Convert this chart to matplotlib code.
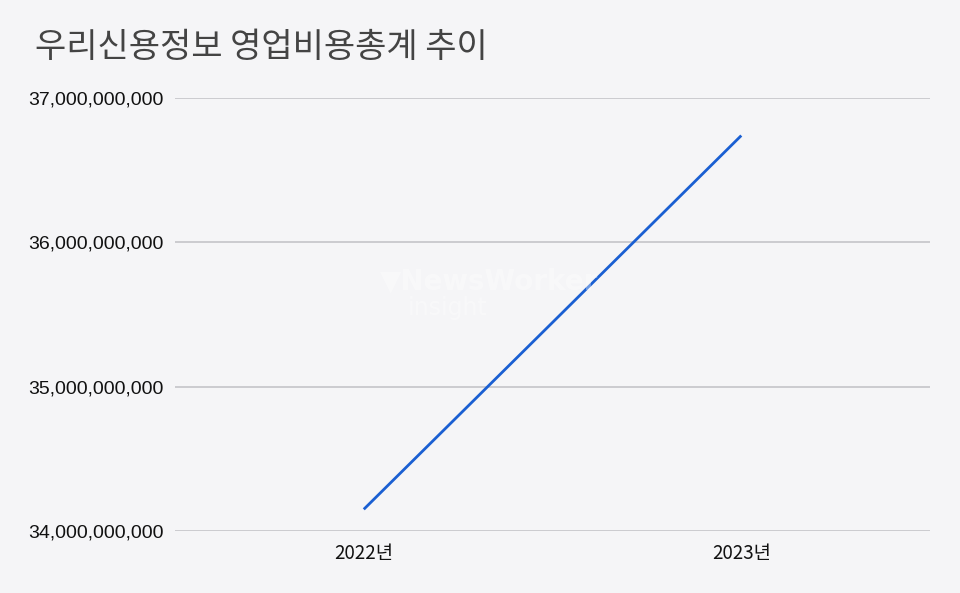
import matplotlib
matplotlib.use("Agg")
import matplotlib.pyplot as plt
from matplotlib.ticker import FuncFormatter

title = "우리신용정보 영업비용총계 추이"
categories = ["2022년", "2023년"]
values = [34_150_000_000, 36_740_000_000]
yticks = [34_000_000_000, 35_000_000_000, 36_000_000_000, 37_000_000_000]

bg = "#f5f5f7"
fig = plt.figure(figsize=(9.6, 5.93), dpi=100, facecolor=bg)
ax = fig.add_axes([0.1823, 0.1046, 0.9688 - 0.1823, 0.8347 - 0.1046])
ax.set_facecolor(bg)

x = list(range(len(categories)))
ax.plot(x, values, color="#1a5fd2", linewidth=2.0, solid_capstyle="butt", zorder=3)

ax.set_xlim(-0.5, len(categories) - 0.5)
ax.set_ylim(yticks[0], yticks[-1])
ax.set_yticks(yticks)
ax.yaxis.set_major_formatter(FuncFormatter(lambda v, p: f"{int(round(v)):,}"))
ax.set_xticks(x)
ax.set_xticklabels(categories, fontfamily=["Noto Sans CJK KR", "DejaVu Sans"], fontsize=13.5,
                   fontweight="medium", color="#111111")
for lab in ax.get_yticklabels():
    lab.set_fontfamily("Liberation Sans")
    lab.set_fontsize(14)
    lab.set_color("#111111")

ax.grid(axis="y", color="#c8c8cc", linewidth=1.3, zorder=1)
ax.tick_params(axis="both", length=0)
ax.tick_params(axis="y", pad=8)
ax.tick_params(axis="x", pad=9)
for s in ax.spines.values():
    s.set_visible(False)

fig.text(35 / 960, 1 - 47 / 593, title, fontfamily=["Noto Sans CJK KR", "DejaVu Sans"],
         fontsize=24.5, fontweight="light", color="#444444", va="center", ha="left")

# faint watermark
fig.text(380 / 960, 1 - 282 / 593, "▼NewsWorker", fontfamily="DejaVu Sans", fontsize=20,
         fontweight="bold", color="white", alpha=0.35, va="center", ha="left")
fig.text(408 / 960, 1 - 308 / 593, "insight", fontfamily="DejaVu Sans", fontsize=17,
         color="white", alpha=0.35, va="center", ha="left")

fig.savefig("out.png", dpi=100, facecolor=bg)
